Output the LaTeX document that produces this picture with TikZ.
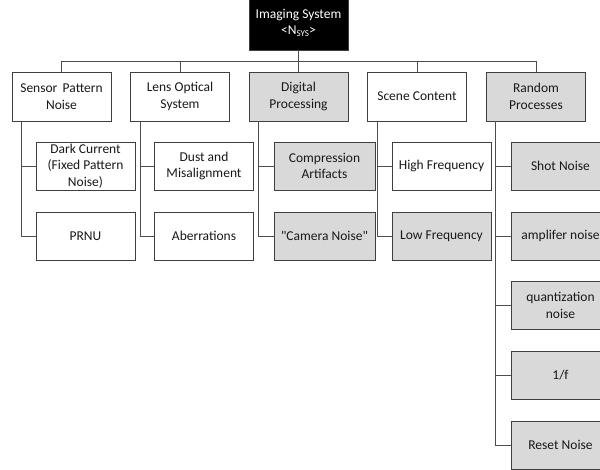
\documentclass[tikz,border=0pt]{standalone}
\usepackage{fontspec}
\setmainfont{Carlito}
% same face without the TeX mapping, so " stays a straight quote
\newfontfamily\straightq{Carlito}[Ligatures=ResetAll]
\usetikzlibrary{calc}
\definecolor{boxfill}{HTML}{D9D9D9}
\definecolor{edge}{HTML}{3F3F3F}
\definecolor{wire}{HTML}{4D4D4D}
\begin{document}
\begin{tikzpicture}[x=1pt,y=-1pt,
  font=\fontsize{13.5}{16.5}\selectfont,
  base/.style={draw=edge,line width=0.9pt,inner sep=0pt,align=center,text=black!90},
  wbox/.style={base,fill=white,minimum width=99pt,minimum height=48pt},
  gbox/.style={base,fill=boxfill,minimum width=99pt,minimum height=48pt},
  link/.style={draw=wire,line width=0.9pt}]
\useasboundingbox (0,0) rectangle (600,470);
\begin{scope}
\clip (0,0) rectangle (600,470);
% root
\node[base,fill=black,text=white,minimum width=99pt,minimum height=55pt] (root) at (298.5,22.5)
  {Imaging System\\[0pt]<N{\fontsize{9}{9}\selectfont\raisebox{-1.5pt}{SYS}}>};
% first level
\node[wbox,minimum height=49pt] (sensor) at (61.5,96.5) {Sensor\ \,Pattern\\Noise};
\node[wbox,minimum height=49pt] (lens)   at (180,96.5)  {Lens Optical\\System};
\node[gbox,minimum height=49pt] (digital) at (298.5,96.5) {Digital\\Processing};
\node[wbox,minimum height=49pt] (scene)  at (417,96.5)  {Scene Content};
\node[gbox,minimum height=49pt] (random) at (536,96.5)  {Random\\Processes};
% second level
\node[wbox] (dark)  at (85.5,166) {Dark Current\\(Fixed Pattern\\Noise)};
\node[wbox] (prnu)  at (85.5,236) {PRNU};
\node[wbox] (dust)  at (204,166)  {Dust and\\Misalignment};
\node[wbox] (aber)  at (204,236)  {Aberrations};
\node[gbox,minimum width=101pt] (comp) at (324.5,166) {Compression\\Artifacts};
\node[gbox,minimum width=101pt] (cam)  at (324.5,236) {\straightq "Camera Noise"};
\node[wbox] (high)  at (441.5,166) {High Frequency};
\node[gbox] (low)   at (441.5,236) {Low Frequency};
\node[gbox] (shot)  at (560.5,166) {Shot Noise};
\node[gbox] (amp)   at (560.5,236) {amplifer noise};
\node[gbox] (quant) at (560.5,305.5) {quantization\\noise};
\node[gbox] (onef)  at (560.5,375) {1/f};
\node[gbox] (reset) at (560.5,445) {Reset Noise};
% top bus
\coordinate (bus) at (0,61);
\draw[link] (root.south) -- (root.south |- bus);
\draw[link] (sensor.north) -- (sensor.north |- bus) -- (random.north |- bus) -- (random.north);
\foreach \n in {lens,digital,scene}
  \draw[link] (\n.north) -- (\n.north |- bus);
% branch trunks
\draw[link] ($(sensor.south west)+(10,0)$) |- (prnu.west);
\draw[link] ($(sensor.south west)+(10,0)$) |- (dark.west);
\draw[link] ($(lens.south west)+(10,0)$) |- (aber.west);
\draw[link] ($(lens.south west)+(10,0)$) |- (dust.west);
\draw[link] ($(digital.south west)+(10,0)$) |- (cam.west);
\draw[link] ($(digital.south west)+(10,0)$) |- (comp.west);
\draw[link] ($(scene.south west)+(10,0)$) |- (low.west);
\draw[link] ($(scene.south west)+(10,0)$) |- (high.west);
\foreach \n in {reset,onef,quant,amp,shot}
  \draw[link] ($(random.south west)+(9,0)$) |- (\n.west);
\end{scope}
\end{tikzpicture}
\end{document}
